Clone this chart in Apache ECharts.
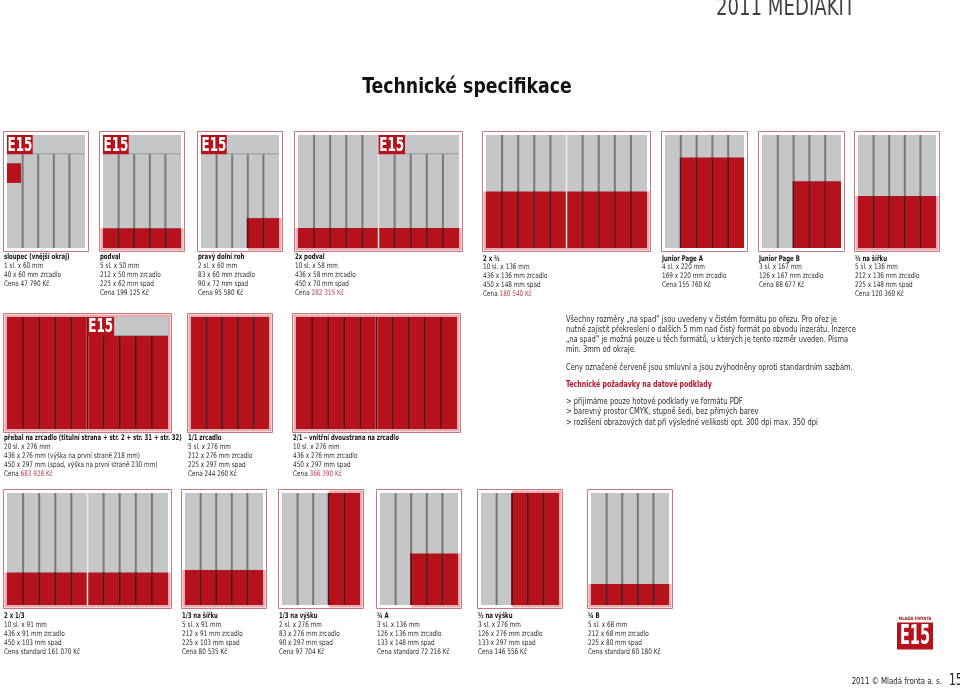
<!DOCTYPE html>
<html><head><meta charset="utf-8">
<script src="https://cdn.jsdelivr.net/npm/echarts@6/dist/echarts.min.js"></script>
<style>html,body{margin:0;padding:0;background:#fff}#c{width:960px;height:689px}</style>
</head><body><div id="c"></div><script>
// ---------------- DATA ----------------
const formatTitles = [
  'sloupec (vnější okraj)', 'podval', 'pravý dolní roh', '2x podval', '2 x ½', 'Junior Page A', 'Junior Page B', '½ na šířku',
  'přebal na zrcadlo (titulní strana + str. 2 + str. 31 + str. 32)', '1/1 zrcadlo', '2/1 – vnitřní dvoustrana na zrcadlo',
  '2 x 1/3', '1/3 na šířku', '1/3 na výšku', '¼ A', '½ na výšku', '¼ B'
];
const formatSpecs = [
  ['1 sl. x 60 mm', '40 x 60 mm zrcadlo'],
  ['5 sl. x 50 mm', '212 x 50 mm zrcadlo', '225 x 62 mm spad'],
  ['2 sl. x 60 mm', '83 x 60 mm zrcadlo', '90 x 72 mm spad'],
  ['10 sl. x 58 mm', '436 x 58 mm zrcadlo', '450 x 70 mm spad'],
  ['10 sl. x 136 mm', '436 x 136 mm zrcadlo', '450 x 148 mm spad'],
  ['4 sl. x 220 mm', '169 x 220 mm zrcadlo'],
  ['3 sl. x 167 mm', '126 x 167 mm zrcadlo'],
  ['5 sl. x 136 mm', '212 x 136 mm zrcadlo', '225 x 148 mm spad'],
  ['20 sl. x 276 mm', '436 x 276 mm (výška na první straně 218 mm)', '450 x 297 mm (spad, výška na první straně 230 mm)'],
  ['5 sl. x 276 mm', '212 x 276 mm zrcadlo', '225 x 297 mm spad'],
  ['10 sl. x 276 mm', '436 x 276 mm zrcadlo', '450 x 297 mm spad'],
  ['10 sl. x 91 mm', '436 x 91 mm zrcadlo', '450 x 103 mm spad'],
  ['5 sl. x 91 mm', '212 x 91 mm zrcadlo', '225 x 103 mm spad'],
  ['2 sl. x 276 mm', '83 x 276 mm zrcadlo', '90 x 297 mm spad'],
  ['3 sl. x 136 mm', '126 x 136 mm zrcadlo', '133 x 148 mm spad'],
  ['3 sl. x 276 mm', '126 x 276 mm zrcadlo', '133 x 297 mm spad'],
  ['5 sl. x 68 mm', '212 x 68 mm zrcadlo', '225 x 80 mm spad']
];
const pricePrefix = ['Cena ', 'Cena ', 'Cena ', 'Cena ', 'Cena ', 'Cena ', 'Cena ', 'Cena ', 'Cena ', 'Cena ', 'Cena ',
  'Cena standard ', 'Cena ', 'Cena ', 'Cena standard ', 'Cena ', 'Cena standard '];
const priceValues = ['47 790 Kč', '199 125 Kč', '95 580 Kč', '282 315 Kč', '180 540 Kč', '155 760 Kč', '88 677 Kč', '120 360 Kč',
  '683 928 Kč', '244 260 Kč', '366 390 Kč', '161 070 Kč', '80 535 Kč', '97 704 Kč', '72 216 Kč', '146 556 Kč', '60 180 Kč'];
const priceContract = [false, false, false, true, true, false, false, false, true, false, true, false, false, false, false, false, false];
const hasBleed   = [false, true, true, true, true, false, false, true, true, true, true, true, true, true, true, true, true];
const pageCount  = [1, 1, 1, 2, 2, 1, 1, 1, 2, 1, 2, 2, 1, 1, 1, 1, 1];
const logoPage   = [0, 0, 0, 1, -1, -1, -1, -1, 1, -1, -1, -1, -1, -1, -1, -1, -1];
const adColFrom  = [0, 0, 3, 0, 0, 1, 2, 0, 0, 0, 0, 0, 0, 3, 2, 2, 0];
const adColTo    = [0.9, 5, 5, 10, 10, 5, 5, 5, 10, 5, 10, 10, 5, 5, 5, 5, 5];
const adTopMm    = [69, 228, 203, 227, 138, 55, 113, 149, 0, 0, 0, 196, 190, 0, 149, 0, 224];
const adBottomMm = [117, 276, 276, 276, 276, 276, 276, 276, 276, 276, 276, 276, 276, 276, 276, 276, 276];
const PAGE_MM = 276, COLS = 5, HEADER_MM = 47, LOGO_COLS = 1.65;

const noteLines = [
  'Všechny rozměry „na spad“ jsou uvedeny v čistém formátu po ořezu. Pro ořez je',
  'nutné zajistit překreslení o dalších 5 mm nad čistý formát po obvodu inzerátu. Inzerce',
  '„na spad“ je možná pouze u těch formátů, u kterých je tento rozměr uveden. Písma',
  'min. 3mm od okraje.',
  'Ceny označené červeně jsou smluvní a jsou zvýhodněny oproti standardním sazbám.'
];
const reqTitle = 'Technické požadavky na datové podklady';
const reqLines = [
  '> přijímáme pouze hotové podklady ve formátu PDF',
  '> barevný prostor CMYK, stupně šedi, bez přímých barev',
  '> rozlišení obrazových dat při výsledné velikosti opt. 300 dpi max. 350 dpi'
];

// ---------------- LAYOUT (positions only) ----------------
// [contentLeft, contentTop, contentWidth, contentHeight, labelFirstLineY]
const thumbLayout = [
  [7, 135, 78, 113, 257], [103, 135, 78, 113, 257], [201, 135, 78, 113, 257], [298, 135, 161, 113, 257],
  [486, 135, 161, 113, 258.5], [665, 135, 79, 113, 258.5], [762, 135, 79, 113, 258.5], [858, 135, 78, 113, 258.5],
  [7, 317, 161, 112, 438.3], [191, 317, 78, 112, 438.3], [296, 317, 161, 112, 438.3],
  [7, 493, 161, 112, 615.7], [185, 493, 78, 112, 615.7], [282, 493, 78, 112, 615.7], [380, 493, 78, 112, 615.7],
  [481, 493, 78, 112, 615.7], [591, 493, 78, 112, 615.7]
];

const FONT = '"Liberation Sans Narrow","DejaVu Sans Condensed","Arial Narrow","Liberation Sans",sans-serif';
const RED = '#b5121b', GRAY = '#c5c6c8', RULE = '#77787b', RULE_RED = '#740a11', FRAME = '#c9787f', BLEED = '#e8abb0',
  TEXT = '#2b2b2b', PRICE_RED = '#c0394a';
const K = {frame: 0, bleed: 1, page: 2, ad: 3, header: 4, rule: 5, ruleRed: 6, divider: 7, dividerDark: 8, logo: 9};
const SX_REG = 0.84, SX_BOLD = 0.77, GAP = 3;

function buildItems(i) {
  const P = pageCount[i], W = P * COLS, it = [];
  const lp = logoPage[i];
  it.push([0, W, 0, PAGE_MM, K.frame]);
  if (hasBleed[i]) it.push([adColFrom[i], adColTo[i], adTopMm[i], adBottomMm[i], K.bleed]);
  for (let p = 0; p < P; p++) it.push([p * COLS, (p + 1) * COLS, 0, PAGE_MM, K.page]);
  it.push([adColFrom[i], adColTo[i], adTopMm[i], adBottomMm[i], K.ad]);
  if (lp >= 0) it.push([lp * COLS + LOGO_COLS, (lp + 1) * COLS, 0, HEADER_MM, K.header]);
  for (let p = 0; p < P; p++) for (let c = 1; c < COLS; c++) {
    const col = p * COLS + c, start = (p === lp) ? HEADER_MM : 0;
    it.push([col, col, start, PAGE_MM, K.rule]);
    if (col >= adColFrom[i] && col < adColTo[i]) {
      const s = Math.max(start, adTopMm[i]), e = adBottomMm[i];
      if (e > s) it.push([col, col, s, e, K.ruleRed]);
    }
  }
  if (P === 2) {
    it.push([COLS, COLS, 0, PAGE_MM, K.divider]);
    if (adTopMm[i] === 0 && adColFrom[i] < COLS && adColTo[i] > COLS) it.push([COLS, COLS, 0, PAGE_MM, K.dividerDark]);
  }
  if (lp >= 0) it.push([lp * COLS, lp * COLS + LOGO_COLS, 0, HEADER_MM, K.logo]);
  return it;
}

function renderItem(params, api) {
  const x0 = api.value(0), x1 = api.value(1), y0 = api.value(2), y1 = api.value(3), k = api.value(4);
  const a = api.coord([x0, y0]), b = api.coord([x1, y1]);
  const x = Math.min(a[0], b[0]), y = Math.min(a[1], b[1]);
  const w = Math.abs(b[0] - a[0]), h = Math.abs(b[1] - a[1]);
  switch (k) {
    case K.frame:
      return {type: 'rect', z2: 0, shape: {x: Math.round(x) - GAP - 0.5, y: Math.round(y) - GAP - 0.5, width: Math.round(w) + 2 * GAP + 1, height: Math.round(h) + 2 * GAP + 1},
        style: {fill: '#fff', stroke: FRAME, lineWidth: 1}};
    case K.bleed: {
      const maxX = pageCount[params.seriesIndex] * COLS;
      const l = x0 <= 0 ? GAP - 0.5 : 0, r = x1 >= maxX ? GAP - 0.5 : 0, t = y0 <= 0 ? GAP - 0.5 : 0, bt = y1 >= PAGE_MM ? GAP - 0.5 : 0;
      return {type: 'rect', z2: 1, shape: {x: x - l, y: y - t, width: w + l + r, height: h + t + bt}, style: {fill: BLEED}};
    }
    case K.page:
      return {type: 'rect', z2: 2, shape: {x, y, width: w, height: h}, style: {fill: GRAY}};
    case K.ad:
      return {type: 'rect', z2: 3, shape: {x, y, width: w, height: h}, style: {fill: RED}};
    case K.header:
      return {type: 'group', children: [
        {type: 'rect', z2: 4, shape: {x, y, width: w, height: h}, style: {fill: GRAY}},
        {type: 'line', z2: 4, shape: {x1: x, y1: y + h - 0.5, x2: x + w, y2: y + h - 0.5}, style: {stroke: '#96979a', lineWidth: 1}}
      ]};
    case K.rule:
      return {type: 'line', z2: 5, shape: {x1: a[0], y1: a[1], x2: b[0], y2: b[1]}, style: {stroke: RULE, lineWidth: 2}};
    case K.ruleRed:
      return {type: 'line', z2: 6, shape: {x1: a[0], y1: a[1], x2: b[0], y2: b[1]}, style: {stroke: RULE_RED, lineWidth: 2}};
    case K.divider:
      return {type: 'line', z2: 7, shape: {x1: a[0], y1: a[1], x2: b[0], y2: b[1]}, style: {stroke: '#f4e4e6', lineWidth: 1.5}};
    case K.dividerDark:
      return {type: 'line', z2: 8, shape: {x1: a[0], y1: a[1], x2: b[0], y2: b[1]}, style: {stroke: '#4a070b', lineWidth: 1}};
    case K.logo:
      return {type: 'group', children: [
        {type: 'rect', z2: 9, shape: {x, y, width: w, height: h}, style: {fill: RED}},
        {type: 'text', z2: 10, x: x + w / 2, y: y + h / 2 + 1, scaleX: 0.7, scaleY: 1, originX: 0, originY: 0,
          style: {text: 'E15', fill: '#fff', font: 'bold ' + Math.round(h * 0.98) + 'px ' + FONT, align: 'center', verticalAlign: 'middle'}}
      ]};
  }
  return null;
}

// ---------------- BUILD ----------------
const grids = [], xAxes = [], yAxes = [], series = [], graphics = [];
function txt(x, y, text, font, fill, sx, align) {
  graphics.push({type: 'text', x, y, silent: true, scaleX: sx, originX: 0, originY: 0,
    style: {text, font, fill, align: align || 'left', verticalAlign: 'middle'}});
}
formatTitles.forEach((title, i) => {
  const [gx, gy, gw, gh, ly] = thumbLayout[i];
  grids.push({left: gx, top: gy, width: gw, height: gh, show: false});
  xAxes.push({type: 'value', gridIndex: i, min: 0, max: pageCount[i] * COLS, show: false});
  yAxes.push({type: 'value', gridIndex: i, min: 0, max: PAGE_MM, inverse: true, show: false});
  series.push({type: 'custom', xAxisIndex: i, yAxisIndex: i, renderItem, data: buildItems(i),
    silent: true, animation: false, clip: false, encode: {x: [0, 1], y: [2, 3]}});
  const lx = gx - 3;
  txt(lx, ly, title, 'bold 7.8px ' + FONT, '#111', SX_BOLD);
  formatSpecs[i].forEach((s, j) => txt(lx, ly + 9 * (j + 1), s, '7.6px ' + FONT, TEXT, SX_REG));
  const py = ly + 9 * (formatSpecs[i].length + 1);
  graphics.push({type: 'text', x: lx, y: py, silent: true, scaleX: SX_REG, originX: 0, originY: 0, style: {
    text: '{a|' + pricePrefix[i] + '}{b|' + priceValues[i] + '}', font: '7.6px ' + FONT, align: 'left', verticalAlign: 'middle',
    rich: {a: {fill: TEXT, font: '7.6px ' + FONT}, b: {fill: priceContract[i] ? PRICE_RED : TEXT, font: '7.6px ' + FONT}}}});
});

// headings, notes, footer
txt(855, 9, '2011 MEDIAKIT', '24px ' + FONT, '#3f3f3f', 0.84, 'right');
txt(467, 87, 'Technické specifikace', 'bold 22px ' + FONT, '#111', 0.875, 'center');
const noteY = [319.3, 329.3, 339.3, 350, 367.7];
noteLines.forEach((l, j) => txt(566, noteY[j], l, '8.7px ' + FONT, TEXT, 0.86));
txt(566, 385, reqTitle, 'bold 8.7px ' + FONT, '#b3122a', 0.8);
const reqY = [401.7, 411.7, 422.3];
reqLines.forEach((l, j) => txt(566, reqY[j], l, '8.7px ' + FONT, TEXT, 0.86));
// footer logo
txt(915, 619, 'MLADÁ FRONTA', 'bold 4.6px ' + FONT, '#8a1018', 0.9, 'center');
graphics.push({type: 'rect', silent: true, shape: {x: 897, y: 622.5, width: 36, height: 27}, style: {fill: RED}});
txt(915, 637.5, 'E15', 'bold 26px ' + FONT, '#fff', 0.62, 'center');
txt(942, 682, '2011 © Mladá fronta a. s.', '9.5px ' + FONT, '#222', 0.82, 'right');
txt(949, 681, '15', '16px ' + FONT, '#222', 0.75, 'left');

const chart = echarts.init(document.getElementById('c'));
chart.setOption({
  animation: false,
  backgroundColor: '#fff',
  grid: grids, xAxis: xAxes, yAxis: yAxes, series,
  graphic: {elements: graphics}
});
</script></body></html>
